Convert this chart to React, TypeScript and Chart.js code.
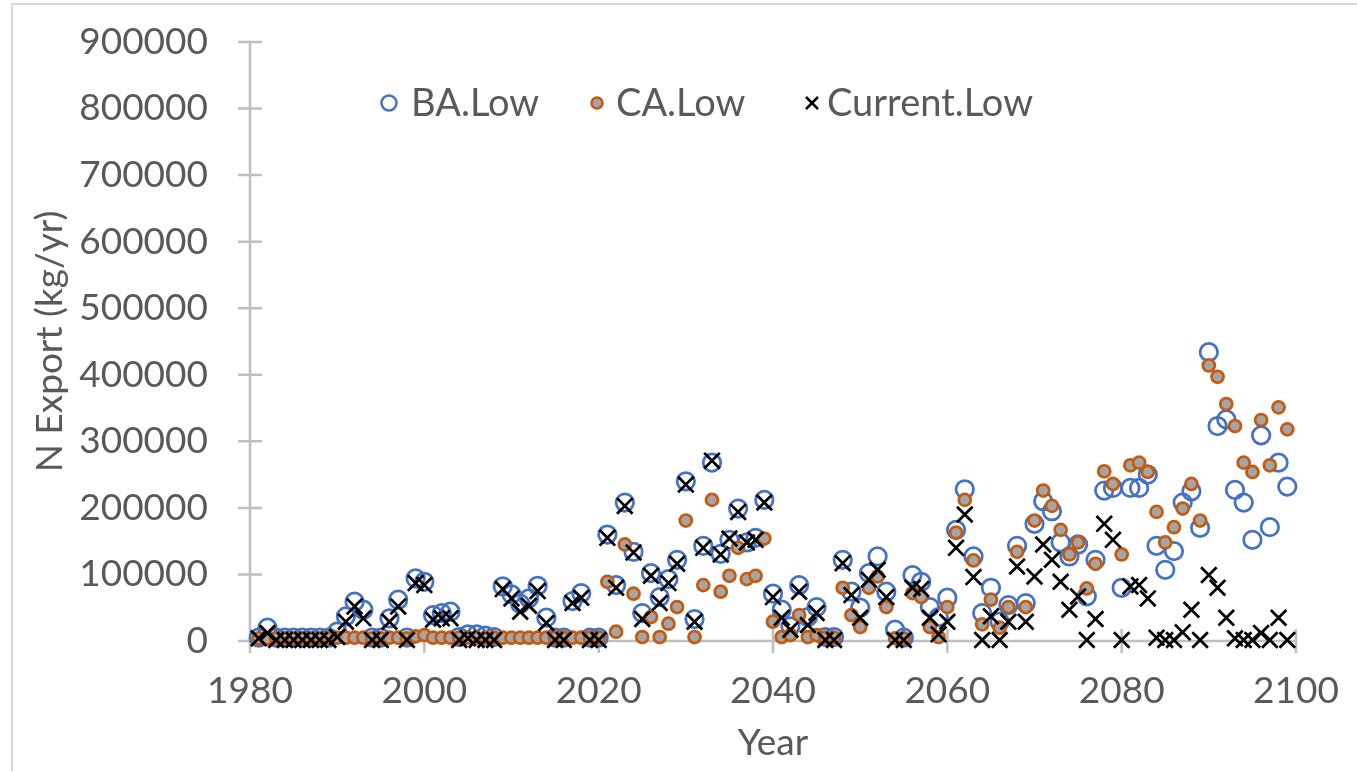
import React, { useEffect, useRef } from "react";
import { Chart, registerables } from "chart.js";

Chart.register(...registerables);

const years = [
  1981, 1982, 1983, 1984, 1985, 1986, 1987, 1988, 1989, 1990,
  1991, 1992, 1993, 1994, 1995, 1996, 1997, 1998, 1999, 2000,
  2001, 2002, 2003, 2004, 2005, 2006, 2007, 2008, 2009, 2010,
  2011, 2012, 2013, 2014, 2015, 2016, 2017, 2018, 2019, 2020,
  2021, 2022, 2023, 2024, 2025, 2026, 2027, 2028, 2029, 2030,
  2031, 2032, 2033, 2034, 2035, 2036, 2037, 2038, 2039, 2040,
  2041, 2042, 2043, 2044, 2045, 2046, 2047, 2048, 2049, 2050,
  2051, 2052, 2053, 2054, 2055, 2056, 2057, 2058, 2059, 2060,
  2061, 2062, 2063, 2064, 2065, 2066, 2067, 2068, 2069, 2070,
  2071, 2072, 2073, 2074, 2075, 2076, 2077, 2078, 2079, 2080,
  2081, 2082, 2083, 2084, 2085, 2086, 2087, 2088, 2089, 2090,
  2091, 2092, 2093, 2094, 2095, 2096, 2097, 2098, 2099,
];

const baLow = [
  5000, 20000, 5000, 5000, 5000, 5000, 5000, 5000, 5000, 14000,
  37000, 59000, 47000, 5000, 5000, 34000, 62000, 5000, 94000, 89000,
  39000, 42000, 44000, 6000, 10000, 10000, 8000, 6000, 82000, 70000,
  56000, 64000, 83000, 35000, 5000, 5000, 60000, 72000, 5000, 5000,
  160000, 84000, 208000, 134000, 42000, 102000, 66000, 93000, 122000, 240000,
  33000, 143000, 268000, 131000, 152000, 199000, 148000, 155000, 212000, 71000,
  47000, 22000, 84000, 36000, 51000, 6000, 6000, 122000, 74000, 50000,
  102000, 127000, 74000, 17000, 5000, 99000, 89000, 51000, 36000, 65000,
  167000, 228000, 127000, 42000, 80000, 29000, 54000, 143000, 57000, 176000,
  210000, 195000, 148000, 127000, 145000, 67000, 122000, 226000, 230000, 80000,
  230000, 230000, 250000, 143000, 107000, 135000, 208000, 225000, 170000, 434000,
  323000, 333000, 227000, 208000, 152000, 309000, 171000, 268000, 232000,
];

const caLow = [
  4000, 4000, 4000, 4000, 4000, 4000, 4000, 4000, 4000, 5000,
  5000, 5000, 5000, 4000, 4000, 5000, 5000, 4000, 7000, 9000,
  5000, 5000, 5000, 5000, 5000, 5000, 5000, 5000, 5000, 5000,
  5000, 5000, 5000, 5000, 5000, 5000, 5000, 5000, 5000, 5000,
  89000, 14000, 145000, 71000, 6000, 36000, 6000, 26000, 51000, 181000,
  6000, 84000, 212000, 74000, 98000, 140000, 93000, 98000, 154000, 29000,
  6000, 9000, 39000, 6000, 9000, 5000, 5000, 80000, 39000, 21000,
  80000, 97000, 51000, 4000, 4000, 72000, 66000, 21000, 6000, 51000,
  163000, 212000, 121000, 25000, 62000, 20000, 51000, 134000, 51000, 181000,
  226000, 203000, 167000, 130000, 148000, 79000, 116000, 255000, 236000, 130000,
  264000, 268000, 254000, 194000, 148000, 171000, 199000, 236000, 181000, 414000,
  397000, 356000, 323000, 268000, 254000, 332000, 264000, 351000, 318000,
];

const currentLow = [
  4000, 12000, 1500, 1500, 1500, 1500, 1500, 1500, 1500, 6000,
  29000, 52000, 34000, 1500, 1500, 29000, 52000, 1500, 87000, 84000,
  32000, 34000, 34000, 1500, 4000, 1500, 1500, 1500, 78000, 64000,
  44000, 53000, 75000, 27000, 1500, 1500, 57000, 65000, 1500, 1500,
  155000, 80000, 203000, 133000, 33000, 98000, 57000, 87000, 116000, 235000,
  29000, 140000, 271000, 130000, 154000, 194000, 148000, 152000, 208000, 66000,
  35000, 17000, 74000, 24000, 42000, 1500, 1500, 117000, 69000, 35000,
  92000, 107000, 66000, 1500, 1500, 80000, 78000, 35000, 10000, 29000,
  140000, 190000, 96000, 1500, 37000, 1500, 29000, 112000, 29000, 97000,
  145000, 122000, 89000, 47000, 67000, 1500, 33000, 176000, 152000, 1500,
  82000, 84000, 64000, 5000, 1500, 1500, 13000, 47000, 1500, 99000,
  80000, 35000, 4000, 1500, 1500, 12000, 1500, 35000, 1500,
];

const seriesLabels = ["BA.Low", "CA.Low", "Current.Low"];
const xTitle = "Year";
const yTitle = "N Export (kg/yr)";

const FONT = "Lato, 'Open Sans', sans-serif";
const TEXT = "#595959";
const AXIS = "#BFBFBF";
const BLUE = "#4472C4";
const ORANGE = "#C55A11";
const GREY_FILL = "#A5A5A5";

export default function App() {
  const ref = useRef<HTMLCanvasElement | null>(null);

  useEffect(() => {
    document.body.style.margin = "0";
    const canvas = ref.current;
    if (!canvas) return;

    const framePlugin = {
      id: "frame",
      beforeDraw(chart: any) {
        const ctx = chart.ctx;
        ctx.save();
        ctx.strokeStyle = "#D9D9D9";
        ctx.lineWidth = 2;
        ctx.strokeRect(12, 4, 1400, 800);
        ctx.restore();
      },
    };

    const axesPlugin = {
      id: "crossAxes",
      beforeDatasetsDraw(chart: any) {
        const ctx = chart.ctx;
        const xs = chart.scales.x;
        const ys = chart.scales.y;
        const x0 = xs.getPixelForValue(xs.min);
        const x1 = xs.getPixelForValue(xs.max);
        const y0 = ys.getPixelForValue(0);
        const y1 = ys.getPixelForValue(ys.max);
        const t = 12;
        ctx.save();
        ctx.strokeStyle = AXIS;
        ctx.lineWidth = 2.5;
        ctx.beginPath();
        ctx.moveTo(x0, y0);
        ctx.lineTo(x0, y1);
        ctx.moveTo(x0, y0);
        ctx.lineTo(x1, y0);
        ys.ticks.forEach((tk: any) => {
          const py = ys.getPixelForValue(tk.value);
          ctx.moveTo(x0 - t, py);
          ctx.lineTo(x0 + t, py);
        });
        xs.ticks.forEach((tk: any) => {
          const px = xs.getPixelForValue(tk.value);
          ctx.moveTo(px, y0 - t);
          ctx.lineTo(px, y0 + t);
        });
        ctx.stroke();
        ctx.restore();
      },
    };

    const legendPlugin = {
      id: "innerLegend",
      afterDraw(chart: any) {
        const ctx = chart.ctx;
        const cy = 103;
        ctx.save();
        ctx.font = `38px ${FONT}`;
        ctx.fillStyle = TEXT;
        ctx.textBaseline = "middle";
        ctx.textAlign = "left";
        // BA marker
        ctx.beginPath();
        ctx.arc(389, cy, 7.5, 0, Math.PI * 2);
        ctx.lineWidth = 2.5;
        ctx.strokeStyle = BLUE;
        ctx.stroke();
        ctx.fillText(seriesLabels[0], 411, cy + 1);
        // CA marker
        ctx.beginPath();
        ctx.arc(597, cy, 5.5, 0, Math.PI * 2);
        ctx.fillStyle = GREY_FILL;
        ctx.fill();
        ctx.lineWidth = 2.5;
        ctx.strokeStyle = ORANGE;
        ctx.stroke();
        ctx.fillStyle = TEXT;
        ctx.fillText(seriesLabels[1], 616, cy + 1);
        // Current marker
        ctx.beginPath();
        const d = 6;
        ctx.moveTo(812 - d, cy - d);
        ctx.lineTo(812 + d, cy + d);
        ctx.moveTo(812 + d, cy - d);
        ctx.lineTo(812 - d, cy + d);
        ctx.strokeStyle = "#000000";
        ctx.lineWidth = 2.5;
        ctx.stroke();
        ctx.fillText(seriesLabels[2], 827, cy + 1);
        ctx.restore();
      },
    };

    const chart = new Chart(canvas, {
      type: "scatter",
      data: {
        datasets: [
          {
            label: seriesLabels[0],
            data: years.map((yr, i) => ({ x: yr, y: baLow[i] })),
            pointStyle: "circle",
            pointRadius: 8.75,
            pointBorderWidth: 2.75,
            pointBorderColor: BLUE,
            pointBackgroundColor: "rgba(0,0,0,0)",
            order: 3,
            clip: false as any,
          },
          {
            label: seriesLabels[1],
            data: years.map((yr, i) => ({ x: yr, y: caLow[i] })),
            pointStyle: "circle",
            pointRadius: 6,
            pointBorderWidth: 2.75,
            pointBorderColor: ORANGE,
            pointBackgroundColor: GREY_FILL,
            order: 2,
            clip: false as any,
          },
          {
            label: seriesLabels[2],
            data: years.map((yr, i) => ({ x: yr, y: currentLow[i] })),
            pointStyle: "crossRot",
            pointRadius: 11,
            pointBorderWidth: 2.75,
            pointBorderColor: "#000000",
            pointBackgroundColor: "#000000",
            order: 1,
            clip: false as any,
          },
        ],
      },
      options: {
        responsive: false,
        animation: false,
        events: [],
        layout: { padding: { top: 42, right: 61, bottom: 0, left: 0 } },
        plugins: {
          legend: { display: false },
          tooltip: { enabled: false },
        },
        scales: {
          x: {
            type: "linear",
            min: 1980,
            max: 2100,
            grid: { display: false, drawTicks: false },
            border: { display: false },
            ticks: {
              stepSize: 20,
              padding: 28,
              color: TEXT,
              font: { family: FONT, size: 37 },
              callback: (v: any) => String(v),
            },
            title: {
              display: true,
              text: xTitle,
              color: TEXT,
              font: { family: FONT, size: 37 },
              padding: { top: 0, bottom: 6 },
            },
            afterFit: (s: any) => {
              s.height = 130;
              s.paddingLeft = 0;
              s.paddingRight = 0;
            },
          },
          y: {
            type: "linear",
            min: 0,
            max: 900000,
            grid: { display: false, drawTicks: false },
            border: { display: false },
            ticks: {
              stepSize: 100000,
              padding: 42,
              color: TEXT,
              font: { family: FONT, size: 37 },
              callback: (v: any) => String(v),
            },
            title: {
              display: true,
              text: yTitle,
              color: TEXT,
              font: { family: FONT, size: 37 },
              padding: { top: 28, bottom: 0 },
            },
            afterFit: (s: any) => {
              s.width = 250;
              s.paddingTop = 0;
              s.paddingBottom = 0;
            },
          },
        },
      },
      plugins: [framePlugin, axesPlugin, legendPlugin],
    });

    return () => chart.destroy();
  }, []);

  return (
    <div style={{ width: 1357, height: 771, position: "relative", background: "#FFFFFF" }}>
      <canvas ref={ref} width={1357} height={771} style={{ display: "block" }} />
    </div>
  );
}
